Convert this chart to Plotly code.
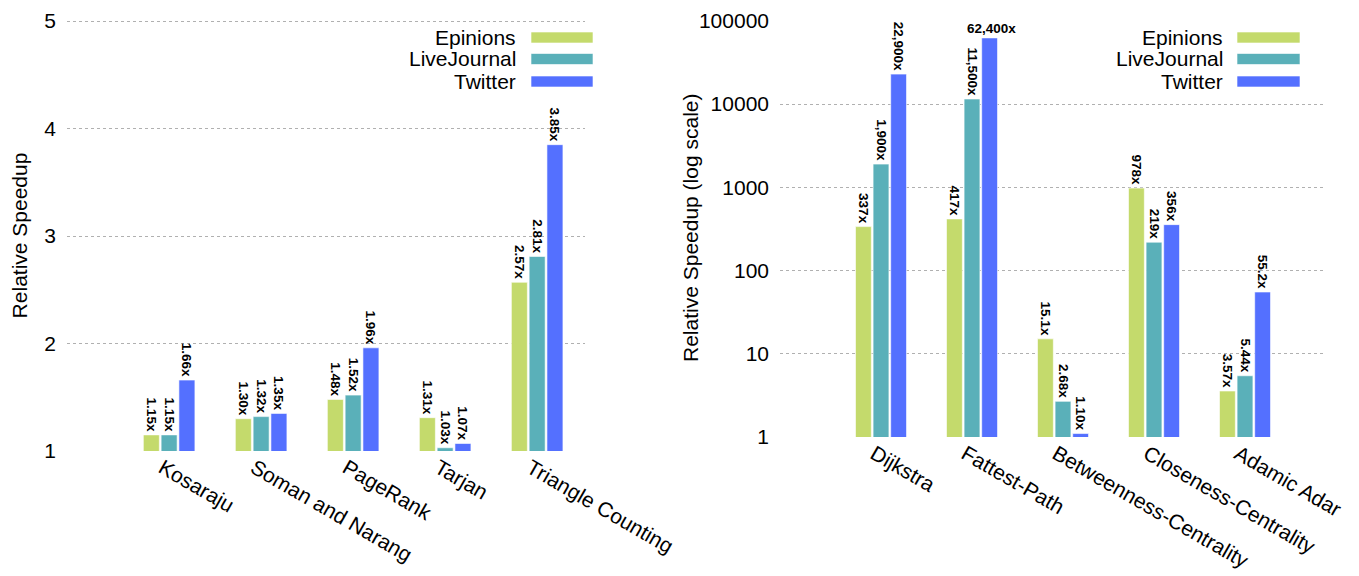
import math
import plotly.graph_objects as go
from plotly.subplots import make_subplots

series = ["Epinions", "LiveJournal", "Twitter"]
colors = ["#C4DA6C", "#5AB0B9", "#5470FF"]

left_cats = ["Kosaraju", "Soman and Narang", "PageRank", "Tarjan", "Triangle Counting"]
left_vals = {
    "Epinions":    [1.15, 1.30, 1.48, 1.31, 2.57],
    "LiveJournal": [1.15, 1.32, 1.52, 1.03, 2.81],
    "Twitter":     [1.66, 1.35, 1.96, 1.07, 3.85],
}
left_labels = {
    "Epinions":    ["1.15x", "1.30x", "1.48x", "1.31x", "2.57x"],
    "LiveJournal": ["1.15x", "1.32x", "1.52x", "1.03x", "2.81x"],
    "Twitter":     ["1.66x", "1.35x", "1.96x", "1.07x", "3.85x"],
}

right_cats = ["Dijkstra", "Fattest-Path", "Betweenness-Centrality", "Closeness-Centrality", "Adamic Adar"]
right_vals = {
    "Epinions":    [337, 417, 15.1, 978, 3.57],
    "LiveJournal": [1900, 11500, 2.68, 219, 5.44],
    "Twitter":     [22900, 62400, 1.10, 356, 55.2],
}
right_labels = {
    "Epinions":    ["337x", "417x", "15.1x", "978x", "3.57x"],
    "LiveJournal": ["1,900x", "11,500x", "2.68x", "219x", "5.44x"],
    "Twitter":     ["22,900x", "", "1.10x", "356x", "55.2x"],
}
horizontal_label = ("Fattest-Path", 62400, "62,400x")

left_ticks = [1, 2, 3, 4, 5]
right_ticks = [1, 10, 100, 1000, 10000, 100000]
right_ticktext = ["1", "10", "100", "1000", "10000", "100000"]

FONT = "Liberation Sans, Arial, sans-serif"
W, H = 1359, 576
OFF = 8  # page body margin

def px(x):
    return (x - OFF) / W

def py(y):
    return 1 - (y - OFF) / H

fig = make_subplots(rows=1, cols=2)

for s, c in zip(series, colors):
    fig.add_trace(go.Bar(
        x=left_cats, y=left_vals[s], name=s,
        marker=dict(color=c, line=dict(color="rgba(255,255,255,0.6)", width=1)),
        text=left_labels[s], textposition="outside", textangle=90, constraintext="none",
        textfont=dict(family=FONT, size=13.5, color="black", weight="bold"),
        showlegend=False), row=1, col=1)
    fig.add_trace(go.Bar(
        x=right_cats, y=right_vals[s], name=s,
        marker=dict(color=c, line=dict(color="rgba(255,255,255,0.6)", width=1)),
        text=right_labels[s], textposition="outside", textangle=90, constraintext="none",
        cliponaxis=False,
        textfont=dict(family=FONT, size=13.5, color="black", weight="bold"),
        showlegend=False), row=1, col=2)

fig.add_annotation(x=horizontal_label[0], y=math.log10(horizontal_label[1]), xref="x2", yref="y2",
                   text="<b>" + horizontal_label[2] + "</b>", showarrow=False,
                   xshift=19, yshift=0, yanchor="bottom",
                   font=dict(family=FONT, size=13.5, color="black"))

grid = dict(showgrid=True, gridcolor="#b0b0b0", griddash="dot", gridwidth=1)
fig.update_layout(
    width=W, height=H, plot_bgcolor="white", paper_bgcolor="white",
    margin=dict(l=0, r=0, t=0, b=0, autoexpand=False),
    font=dict(family=FONT, size=20, color="black"),
    bargap=0.42, bargroupgap=0.1, barmode="group",
    xaxis=dict(domain=[px(67), px(585)], range=[-1.11, 4.52], tickangle=30, showline=False,
               ticks="", tickfont=dict(size=21), ticklabelshift=-7, automargin=False),
    yaxis=dict(domain=[py(451), py(20)], range=[1, 5.01], tickvals=left_ticks, zeroline=False,
               title=dict(text="Relative Speedup", font=dict(size=21), standoff=11),
               ticks="", tickfont=dict(size=21), ticklabelstandoff=10, ticklabeloverflow="allow",
               automargin=False, **grid),
    xaxis2=dict(domain=[px(780), px(1326)], range=[-1.11, 4.89], tickangle=30, showline=False,
                ticks="", tickfont=dict(size=21), ticklabelshift=-7, automargin=False),
    yaxis2=dict(domain=[py(437), py(20)], type="log", range=[0, 5.01], tickvals=right_ticks,
                ticktext=right_ticktext, zeroline=False, anchor="x2",
                ticks="", tickfont=dict(size=21), ticklabelstandoff=10, ticklabeloverflow="allow",
                automargin=False, **grid),
)

# right y-axis title placed precisely
fig.add_annotation(xref="paper", yref="paper", x=px(690), y=py(228),
                   text="Relative Speedup (log scale)", textangle=-90, showarrow=False,
                   xanchor="center", yanchor="middle", font=dict(family=FONT, size=21))

# manual legends: text right-aligned, swatch on the right
legend_rows = [37.5, 59, 81.5]
for (sw_x0, sw_x1, txt_x) in [(531, 593, 518), (1237, 1300, 1225)]:
    for s, c, yc in zip(series, colors, legend_rows):
        fig.add_shape(type="rect", xref="paper", yref="paper", x0=px(sw_x0), x1=px(sw_x1),
                      y0=py(yc + 5.5), y1=py(yc - 5.5), fillcolor=c,
                      line=dict(color="rgba(255,255,255,0.6)", width=1))
        fig.add_annotation(xref="paper", yref="paper", x=px(txt_x), y=py(yc), text=s, showarrow=False,
                           xanchor="right", yanchor="middle", font=dict(family=FONT, size=21))

fig.write_html("out.html")
